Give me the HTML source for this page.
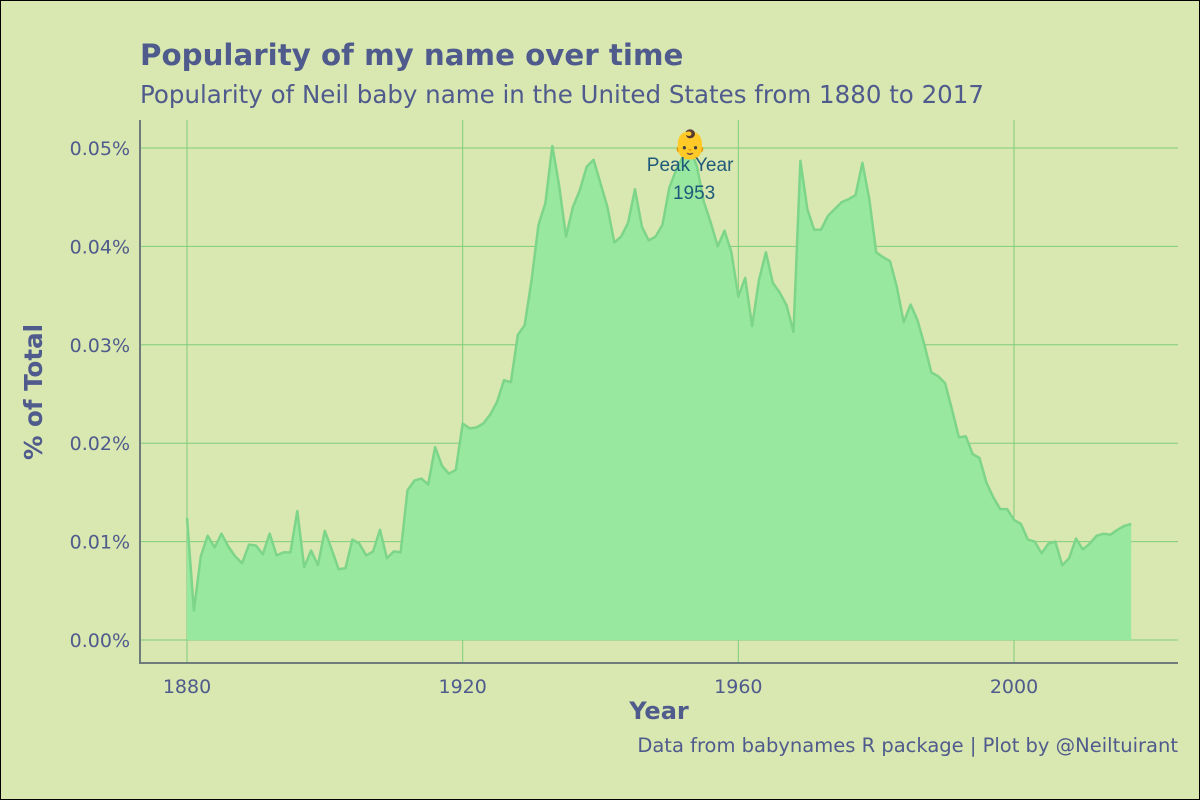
<!DOCTYPE html>
<html><head><meta charset="utf-8"><style>
html,body{margin:0;padding:0;background:#d9e7b0;}
svg{display:block;}
text{font-family:"DejaVu Sans","Liberation Sans",sans-serif;fill:#4f5b8c;}
</style></head><body>
<svg id="chart" width="1200" height="800" viewBox="0 0 1200 800">
<rect x="0.5" y="0.5" width="1199" height="799" fill="#d9e7b0" stroke="#000"/>
<text x="140" y="65" font-size="29.3" font-weight="bold">Popularity of my name over time</text>
<text x="140" y="103" font-size="24.5">Popularity of Neil baby name in the United States from 1880 to 2017</text>
<g id="grid"></g>
<g id="area"></g>
<g id="axes"></g>
<text x="1178" y="752" font-size="19.5" text-anchor="end">Data from babynames R package | Plot by @Neiltuirant</text>
<text x="659" y="719" font-size="24" font-weight="bold" text-anchor="middle">Year</text>
<text transform="translate(42,392) rotate(-90)" font-size="24.5" font-weight="bold" text-anchor="middle">% of Total</text>
</svg>
<script>
const startYear = 1880;
const values = [12.4,3.0,8.5,10.6,9.4,10.8,9.5,8.5,7.8,9.7,9.6,8.7,10.8,8.6,8.9,8.9,13.1,7.4,9.1,7.6,
11.1,9.2,7.2,7.3,10.2,9.8,8.6,9.0,11.2,8.3,9.0,8.9,15.2,16.2,16.4,15.8,19.6,17.7,16.9,17.3,
22.0,21.5,21.6,22.0,22.9,24.2,26.4,26.2,31.0,32.0,36.6,42.2,44.4,50.2,46.2,41.0,44.0,45.7,48.1,48.8,
46.4,44.0,40.4,41.0,42.4,45.8,42.0,40.6,41.0,42.2,46.0,47.8,49.2,50.0,48.1,44.5,42.4,40.0,41.6,39.4,
34.9,36.8,31.9,36.6,39.4,36.3,35.3,34.0,31.3,48.7,43.8,41.7,41.7,43.1,43.8,44.5,44.8,45.2,48.5,44.8,
39.4,38.9,38.5,35.9,32.3,34.1,32.5,30.0,27.2,26.8,26.1,23.4,20.6,20.7,18.9,18.5,16.0,14.5,13.3,13.3,
12.2,11.8,10.2,10.0,8.8,9.8,10.0,7.6,8.3,10.3,9.2,9.8,10.6,10.8,10.7,11.2,11.6,11.8];
const xTicks = [1880,1920,1960,2000];
const yTicks = [0,10,20,30,40,50];
const yTickLabels = ["0.00%","0.01%","0.02%","0.03%","0.04%","0.05%"];
const peakYear = 1953;

const NS="http://www.w3.org/2000/svg";
const X = yr => 187 + (yr-1880)*(1014-187)/120;
const Y = v => 640 - v*(640-148)/50;
function mk(tag, attrs, parent){const e=document.createElementNS(NS,tag);for(const k in attrs)e.setAttribute(k,attrs[k]);parent.appendChild(e);return e;}
const grid=document.getElementById('grid'), area=document.getElementById('area'), axes=document.getElementById('axes');
yTicks.forEach((t,i)=>{
  const l=mk('line',{x1:140,x2:1178,y1:Y(t),y2:Y(t),stroke:'#7fce7a','stroke-width':1},grid);
  
  
  const tx=mk('text',{x:130,y:Y(t)+7,'font-size':19,'text-anchor':'end'},axes);
  tx.textContent=yTickLabels[i];
  
  
});
xTicks.forEach(t=>{
  const l=mk('line',{x1:X(t),x2:X(t),y1:120,y2:663,stroke:'#7fce7a','stroke-width':1},grid);
  
  
  const tx=mk('text',{x:X(t),y:693,'font-size':19,'text-anchor':'middle'},axes);
  tx.textContent=t;
  
  
});
let pts=values.map((v,i)=>X(startYear+i).toFixed(1)+','+Y(v).toFixed(1));
const poly=mk('polygon',{points:X(startYear)+','+Y(0)+' '+pts.join(' ')+' '+X(startYear+values.length-1)+','+Y(0),fill:'#98e8a0'},area);


const line=mk('polyline',{points:pts.join(' '),fill:'none',stroke:'#7dd58a','stroke-width':2.5,'stroke-linejoin':'round'},area);


const al=mk('line',{x1:140,x2:140,y1:120,y2:664,stroke:'#6f7a7a','stroke-width':2},axes);


const bl=mk('line',{x1:139,x2:1178,y1:663,y2:663,stroke:'#6f7a7a','stroke-width':2},axes);


const px=X(peakYear);
const em=mk('text',{x:px,y:154,'font-size':28,'text-anchor':'middle'},axes);
em.textContent='👶';


const a1=mk('text',{x:px,y:171,'font-size':19,'text-anchor':'middle',style:'fill:#1f5a7a;font-family:"Liberation Sans",sans-serif'},axes);
a1.textContent='Peak Year';


const a2=mk('text',{x:px+4,y:199,'font-size':19,'text-anchor':'middle',style:'fill:#1f5a7a;font-family:"Liberation Sans",sans-serif'},axes);
a2.textContent=peakYear;


</script>
</body></html>
